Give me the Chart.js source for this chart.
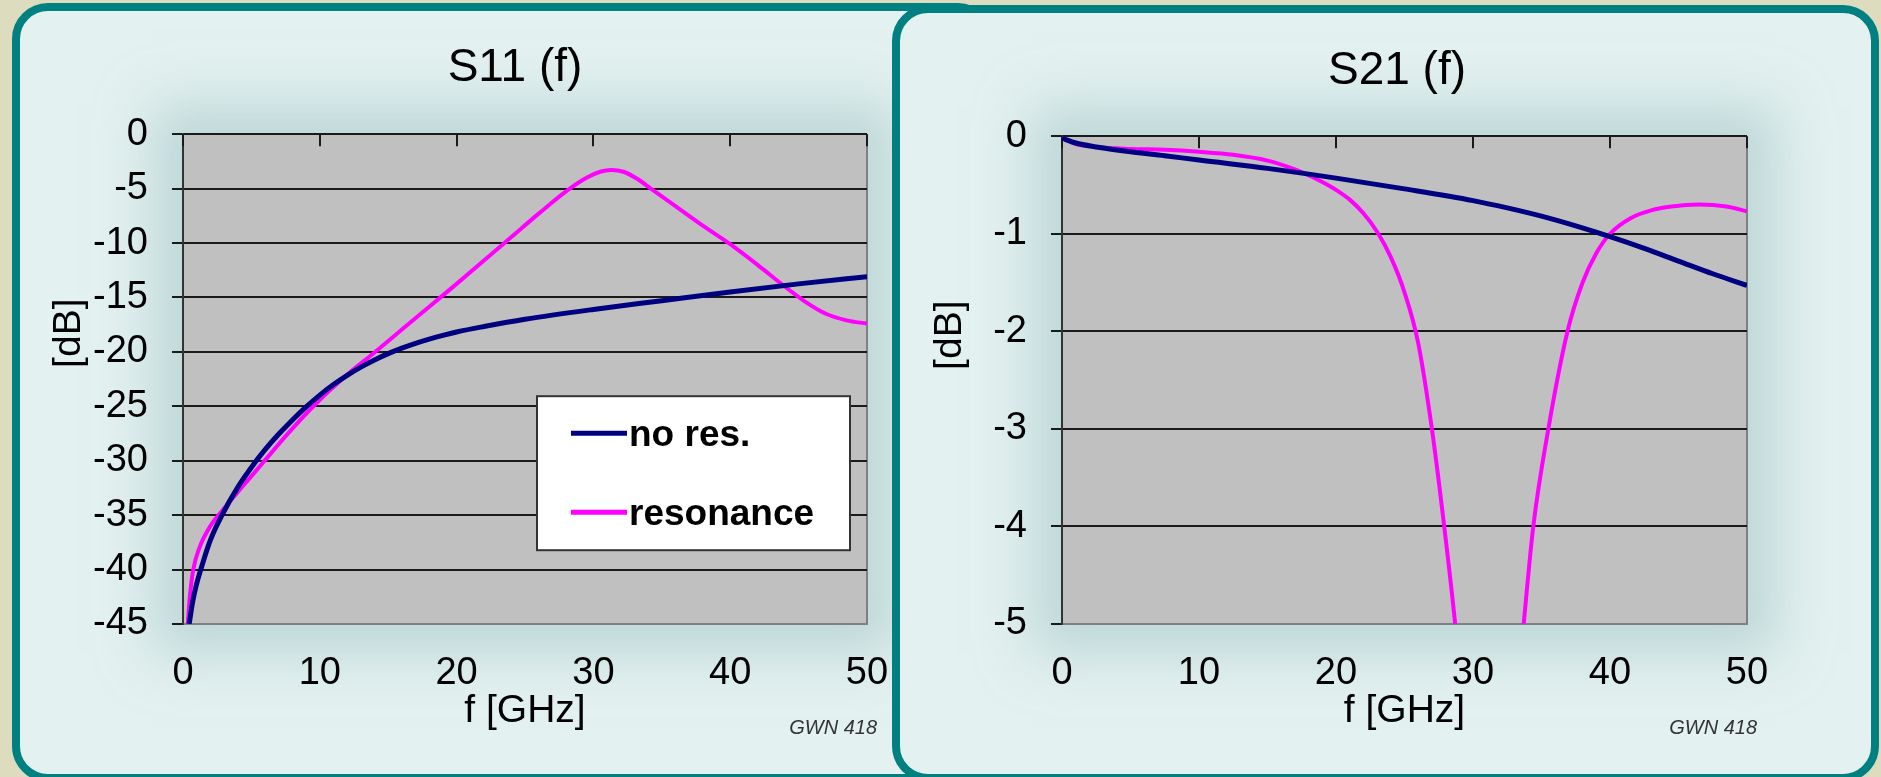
<!DOCTYPE html>
<html>
<head>
<meta charset="utf-8">
<title>S11 (f) / S21 (f)</title>
<script src="https://cdn.jsdelivr.net/npm/chart.js@4.4.1/dist/chart.umd.min.js"></script>
<style>
  html, body { margin: 0; padding: 0; }
  body {
    width: 1881px; height: 777px; overflow: hidden; position: relative;
    background: #dedcbe;
  }
  .panel {
    position: absolute; box-sizing: border-box;
    border: 8px solid #008080; border-radius: 36px; background: #e3f1f0;
  }
  #panelL { left: 12px; top: 3px; width: 982px; height: 779px; }
  #panelR { left: 892px; top: 5px; width: 987px; height: 777px; }
  .glow {
    position: absolute; background: #bcd5d5;
    box-shadow: 0 0 50px 30px rgba(165, 198, 198, 0.6);
  }
  #glowL { left: 183px; top: 134px; width: 684px; height: 490px; }
  #glowR { left: 1062px; top: 136px; width: 685px; height: 488px; }
  canvas { position: absolute; }
  #s11 { left: 30px; top: 20px; }
  #s21 { left: 915px; top: 20px; }
</style>
</head>
<body>
<div class="panel" id="panelL"></div>
<div class="glow" id="glowL"></div>
<canvas id="s11" width="970" height="740"></canvas>
<div class="panel" id="panelR"></div>
<div class="glow" id="glowR"></div>
<canvas id="s21" width="964" height="740"></canvas>

<script>
const seriesLabels = ["no res.", "resonance"];
const freqTicks = [0, 10, 20, 30, 40, 50];
const s11Ticks = [0, -5, -10, -15, -20, -25, -30, -35, -40, -45];
const s21Ticks = [0, -1, -2, -3, -4, -5];

// S11, no resonance
const s11NoResF  = [0.45, 0.7, 1, 1.3, 2, 2.85, 4, 5.3, 6, 7, 8, 9, 10, 11, 12, 13, 14, 15, 16, 17, 18, 19, 20, 22, 25, 30, 35, 40, 45, 50];
const s11NoResDb = [-45, -43, -41.3, -40, -37.3, -35, -32.45, -30.1, -28.98, -27.55, -26.25, -25.05, -23.97, -23.0, -22.15, -21.4, -20.74, -20.16, -19.66, -19.22, -18.83, -18.48, -18.17, -17.67, -17.0, -16.1, -15.3, -14.5, -13.75, -13.1];

// S11, with resonance
const s11ResF  = [0.35, 0.5, 0.75, 1.2, 2, 3, 4.4, 5.9, 7.6, 9.6, 12, 14, 16, 18, 20, 22, 24, 26, 28, 29.5, 30.5, 31.3, 32.2, 33.2, 34.2, 36, 38, 40, 42, 44, 45.5, 47, 48.5, 50];
const s11ResDb = [-45, -42.5, -40, -38, -36, -34.4, -32.3, -30.1, -27.6, -24.9, -22.1, -20.05, -17.95, -15.85, -13.75, -11.6, -9.45, -7.3, -5.25, -4.0, -3.45, -3.3, -3.45, -4.1, -5.0, -6.6, -8.4, -10.1, -12.0, -14.0, -15.4, -16.5, -17.1, -17.4];

// S21, no resonance
const s21NoResF  = [0, 1, 2.5, 5, 7.5, 10, 15, 20, 25, 30, 32.5, 35, 37.5, 40, 42.5, 45, 47.5, 50];
const s21NoResDb = [-0.02, -0.07, -0.11, -0.16, -0.2, -0.245, -0.33, -0.43, -0.54, -0.66, -0.735, -0.82, -0.92, -1.03, -1.15, -1.28, -1.41, -1.53];

// S21, with resonance
const s21ResF  = [0, 1, 2.5, 5, 7.5, 10, 12.5, 15, 17, 18, 19, 20, 21, 22, 23, 24, 25, 26, 27, 27.9, 28.7, 29.5, 31, 32.7, 33.7, 34.4, 35.5, 36.9, 38, 39, 40, 41.5, 43, 44.5, 46.5, 48.5, 50];
const s21ResDb = [-0.02, -0.08, -0.11, -0.13, -0.14, -0.16, -0.19, -0.25, -0.34, -0.40, -0.47, -0.55, -0.65, -0.79, -0.98, -1.24, -1.6, -2.12, -3.0, -4.0, -5.0, -6.2, -9, -6.5, -5.0, -4.0, -3.0, -2.0, -1.5, -1.2, -1.0, -0.84, -0.76, -0.72, -0.7, -0.72, -0.77];

const FONT = "'Liberation Sans', Arial, sans-serif";
const NAVY = "#000080";
const MAGENTA = "#ff00ff";
const GRID = "#1a1a1a";

function points(xs, ys) {
  return xs.map((x, i) => ({ x: x, y: ys[i] }));
}

// plot background, inner ticks on the top axis, legend box and small labels
const plotExtras = {
  id: "plotExtras",
  beforeDraw(chart) {
    const a = chart.chartArea;
    const ctx = chart.ctx;
    ctx.save();
    ctx.fillStyle = "#c0c0c0";
    ctx.fillRect(a.left, a.top, a.width, a.height);
    ctx.restore();
  },
  beforeDatasetsDraw(chart) {
    const a = chart.chartArea;
    const ctx = chart.ctx;
    const xs = chart.scales.x;
    ctx.save();
    ctx.strokeStyle = GRID;
    ctx.lineWidth = 2;
    xs.ticks.forEach((t) => {
      const px = Math.round(xs.getPixelForValue(t.value));
      ctx.beginPath();
      ctx.moveTo(px, a.top);
      ctx.lineTo(px, a.top + 12);
      ctx.stroke();
    });
    ctx.restore();
  },
  afterDraw(chart, args, o) {
    const a = chart.chartArea;
    const ctx = chart.ctx;
    ctx.save();

    // y axis title, sits above the middle of the axis
    ctx.translate(a.left - o.yTitleDx, a.top + o.yTitleDy);
    ctx.rotate(-Math.PI / 2);
    ctx.fillStyle = "#000";
    ctx.font = "39px " + FONT;
    ctx.textAlign = "center";
    ctx.textBaseline = "middle";
    ctx.fillText("[dB]", 0, 0);
    ctx.setTransform(1, 0, 0, 1, 0, 0);

    // source tag
    ctx.font = "italic 20px " + FONT;
    ctx.fillStyle = "#333";
    ctx.textAlign = "right";
    ctx.fillText("GWN 418", a.right + 10, a.bottom + 104);

    if (o.legend) {
      const bx = a.left + 354, by = a.top + 262, bw = 313, bh = 154;
      ctx.fillStyle = "#fff";
      ctx.fillRect(bx, by, bw, bh);
      ctx.strokeStyle = "#333";
      ctx.lineWidth = 2;
      ctx.strokeRect(bx, by, bw, bh);
      ctx.font = "bold 37px " + FONT;
      ctx.textAlign = "left";
      ctx.textBaseline = "middle";
      chart.data.datasets.forEach((ds, i) => {
        const ly = by + 37 + i * 79;
        ctx.strokeStyle = ds.borderColor;
        ctx.lineWidth = 5;
        ctx.beginPath();
        ctx.moveTo(bx + 34, ly);
        ctx.lineTo(bx + 90, ly);
        ctx.stroke();
        ctx.fillStyle = "#000";
        ctx.fillText(ds.label, bx + 92, ly + 3);
      });
    }
    ctx.restore();
  },
};

function makeChart(id, cfg) {
  return new Chart(document.getElementById(id), {
    type: "line",
    data: {
      datasets: [
        {
          label: seriesLabels[0],
          data: points(cfg.noResF, cfg.noResDb),
          borderColor: NAVY,
          borderWidth: 5,
          pointRadius: 0,
          cubicInterpolationMode: "monotone",
        },
        {
          label: seriesLabels[1],
          data: points(cfg.resF, cfg.resDb),
          borderColor: MAGENTA,
          borderWidth: 4,
          pointRadius: 0,
          cubicInterpolationMode: "monotone",
        },
      ],
    },
    options: {
      responsive: false,
      animation: false,
      layout: { padding: 0 },
      plugins: {
        legend: { display: false },
        tooltip: { enabled: false },
        title: {
          display: true,
          text: cfg.title,
          color: "#000",
          font: { family: FONT, size: 46, weight: "normal" },
          padding: { top: cfg.titleTop, bottom: cfg.titleBottom },
        },
        plotExtras: { legend: cfg.legend, yTitleDx: cfg.yTitleDx, yTitleDy: 199 },
      },
      scales: {
        x: {
          type: "linear",
          min: 0,
          max: 50,
          afterBuildTicks: (s) => { s.ticks = freqTicks.map((v) => ({ value: v })); },
          afterFit: (s) => { s.height = 136; },
          ticks: { color: "#000", font: { family: FONT, size: 38 }, padding: 27, maxRotation: 0 },
          grid: {
            drawTicks: false,
            lineWidth: 2,
            color: (c) => (c.tick && c.tick.value === 50 ? "#808080" : "rgba(0,0,0,0)"),
          },
          border: { display: true, color: "#808080", width: 2 },
          title: {
            display: true,
            text: "f [GHz]",
            color: "#000",
            font: { family: FONT, size: 39 },
            padding: { top: 0, bottom: 25 },
          },
        },
        y: {
          type: "linear",
          min: cfg.yTicks[cfg.yTicks.length - 1],
          max: 0,
          afterBuildTicks: (s) => { s.ticks = cfg.yTicks.map((v) => ({ value: v })); },
          afterFit: (s) => { s.width = cfg.yWidth; },
          ticks: { color: "#000", font: { family: FONT, size: 38 }, padding: 24 },
          grid: {
            lineWidth: 2,
            tickLength: 11,
            tickColor: GRID,
            color: (c) => (c.tick && c.tick.value === cfg.yTicks[cfg.yTicks.length - 1] ? "#808080" : GRID),
          },
          border: { display: true, color: "#333", width: 2 },
        },
        // empty spacer on the right, keeps the title centred like the original
        ySpacer: {
          type: "linear",
          position: "right",
          min: 0,
          max: 1,
          afterFit: (s) => { s.width = cfg.rightWidth; },
          ticks: { display: false },
          grid: { display: false },
          border: { display: false },
        },
      },
    },
    plugins: [plotExtras],
  });
}

makeChart("s11", {
  title: "S11 (f)",
  titleTop: 21,
  titleBottom: 38,
  yWidth: 153,
  rightWidth: 133,
  yTitleDx: 114,
  yTicks: s11Ticks,
  legend: true,
  noResF: s11NoResF, noResDb: s11NoResDb,
  resF: s11ResF, resDb: s11ResDb,
});

makeChart("s21", {
  title: "S21 (f)",
  titleTop: 24,
  titleBottom: 37,
  yWidth: 147,
  rightWidth: 132,
  yTitleDx: 112,
  yTicks: s21Ticks,
  legend: false,
  noResF: s21NoResF, noResDb: s21NoResDb,
  resF: s21ResF, resDb: s21ResDb,
});
</script>
</body>
</html>
